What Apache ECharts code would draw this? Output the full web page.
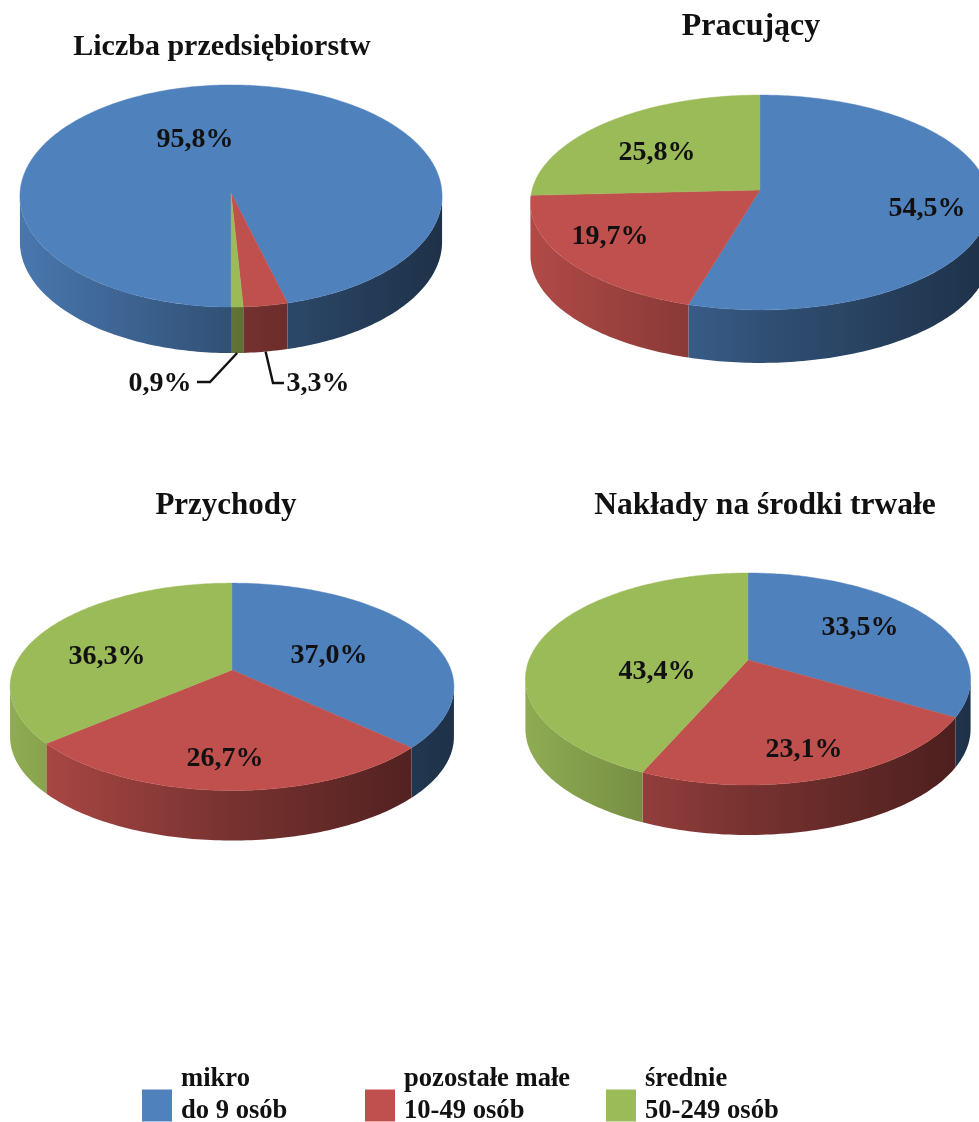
<!DOCTYPE html>
<html><head><meta charset="utf-8">
<style>html,body{margin:0;padding:0;background:#fff}#c{width:979px;height:1122px}</style>
<script src="https://cdn.jsdelivr.net/npm/echarts@6/dist/echarts.min.js"></script>
</head><body><div id="c"></div>
<script>
// --- data ---
const pieTitles = ['Liczba przedsiębiorstw', 'Pracujący', 'Przychody', 'Nakłady na środki trwałe'];
const categories = ['mikro\ndo 9 osób', 'pozostałe małe\n10-49 osób', 'średnie\n50-249 osób'];
const mikro = [95.8, 54.5, 37.0, 33.5];
const pozostaleMale = [3.3, 19.7, 26.7, 23.1];
const srednie = [0.9, 25.8, 36.3, 43.4];
const colors = ['#4f81bd', '#c0504d', '#9bbb59'];
// --- layout (perspective of each pie, titles, labels) ---
const SERIES_VALUES = [mikro, pozostaleMale, srednie];
const pieLayout = [
  {cx: 231, cy: 193, a: 111, b: 211, k: 0.027, depth: 46, start: 0.5},
  {cx: 760, cy: 190, a: 106, b: 228, k: 0.116, depth: 53, start: 0},
  {cx: 232, cy: 670, a: 101, b: 219, k: 0.162, depth: 50, start: 0},
  {cx: 748, cy: 660, a: 102.6, b: 219, k: 0.179, depth: 50, start: 0}
];
const titlePos = [[222, 32, 30], [751, 11, 32], [226, 490, 31], [765, 490, 31.5]];
const labelPos = [
  [[195, 140], [318, 384], [160, 384]],
  [[927, 209], [610, 237], [657, 153]],
  [[329, 656], [225, 759], [107, 657]],
  [[860, 628], [804, 750], [657, 672]]
];
const leaders = {'0-1': [[273, 383], [284, 383]], '0-2': [[210, 382], [197, 382]]};
const legendPos = [142, 365, 606];
const FONT = '"Liberation Serif","Times New Roman",serif';

function project(p, turn, dy) {
  const t = turn * 2 * Math.PI;
  const u = Math.sin(t), v = Math.cos(t), d = 1 + p.k * v;
  return [p.cx + p.b * u / d, p.cy - p.a * v / d + (dy || 0)];
}
function arc(p, t0, t1, dy) {
  const n = Math.max(2, Math.ceil((t1 - t0) * 360));
  const pts = [];
  for (let i = 0; i <= n; i++) pts.push(project(p, t0 + (t1 - t0) * i / n, dy));
  return pts;
}
// parts of a slice (in turns) that face the viewer; silhouette lies where cos t = -k
function frontParts(p, t0, t1) {
  const s = Math.acos(-p.k) / (2 * Math.PI), parts = [];
  for (const shift of [0, 1]) {
    const a = Math.max(t0, s + shift), b = Math.min(t1, 1 - s + shift);
    if (b > a) parts.push([a, b]);
  }
  return parts;
}
function shade(hex, f) {
  const n = parseInt(hex.slice(1), 16);
  const c = [n >> 16, (n >> 8) & 255, n & 255].map(x => Math.round(x * f));
  return 'rgb(' + c.join(',') + ')';
}
function makeRender(s) {
  return function (params, api) {
    const i = params.dataIndex, p = pieLayout[i], value = api.value(0);
    let before = 0;
    for (let j = 0; j < s; j++) before += SERIES_VALUES[j][i];
    const t0 = p.start + before / 100, t1 = p.start + (before + value) / 100;
    const halfW = p.b / Math.sqrt(1 - p.k * p.k);
    const grad = {
      type: 'linear', global: true, x: p.cx - halfW, y: 0, x2: p.cx + halfW, y2: 0,
      colorStops: [
        {offset: 0, color: shade(colors[s], 0.92)},
        {offset: 0.5, color: shade(colors[s], 0.62)},
        {offset: 1, color: shade(colors[s], 0.38)}
      ]
    };
    const children = [
      {type: 'polygon', z2: 2, shape: {points: [[p.cx, p.cy]].concat(arc(p, t0, t1, 0))},
        style: {fill: colors[s], stroke: colors[s], lineWidth: 0.4}},
      {type: 'text', z2: 4, style: {
        x: labelPos[i][s][0], y: labelPos[i][s][1],
        text: value.toFixed(1).replace('.', ',') + '%',
        font: 'bold 28px ' + FONT, fill: '#111', align: 'center', verticalAlign: 'middle'}}
    ];
    frontParts(p, t0, t1).forEach(f => {
      const pts = arc(p, f[0], f[1], 0).concat(arc(p, f[0], f[1], p.depth).reverse());
      children.push({type: 'polygon', z2: 1, shape: {points: pts}, style: {fill: grad, stroke: null}});
    });
    const lead = leaders[i + '-' + s];
    if (lead) {
      const start = project(p, (t0 + t1) / 2, p.depth);
      children.push({type: 'polyline', z2: 3, shape: {points: [start].concat(lead)},
        style: {fill: null, stroke: '#111', lineWidth: 2.4}});
    }
    return {type: 'group', children};
  };
}
const chart = echarts.init(document.getElementById('c'), null, {renderer: 'canvas'});
const legendLine = {fontFamily: FONT, fontWeight: 'bold', fontSize: 26.6, color: '#111', lineHeight: 32};
chart.setOption({
  animation: false,
  backgroundColor: '#fff',
  title: pieTitles.map((t, i) => ({
    text: t, left: titlePos[i][0], top: titlePos[i][1], textAlign: 'center', padding: 0,
    textStyle: {fontFamily: FONT, fontWeight: 'bold', fontSize: titlePos[i][2], color: '#111'}
  })),
  legend: categories.map((c, i) => ({
    data: [c], left: legendPos[i], top: 1066, padding: 0, orient: 'horizontal',
    icon: 'rect', itemWidth: 30, itemHeight: 32, selectedMode: false,
    formatter: n => n.split('\n').map(l => '{a|' + l + '}').join('\n') + '\n{b| }',
    textStyle: {
      padding: [0, 0, 0, 4],
      rich: {a: legendLine, b: {fontSize: 12, lineHeight: 20}}
    }
  })),
  series: categories.map((c, s) => ({
    type: 'custom', name: c, coordinateSystem: 'none', clip: false,
    itemStyle: {color: colors[s]},
    renderItem: makeRender(s),
    data: SERIES_VALUES[s].map(v => [v])
  }))
});
</script></body></html>
